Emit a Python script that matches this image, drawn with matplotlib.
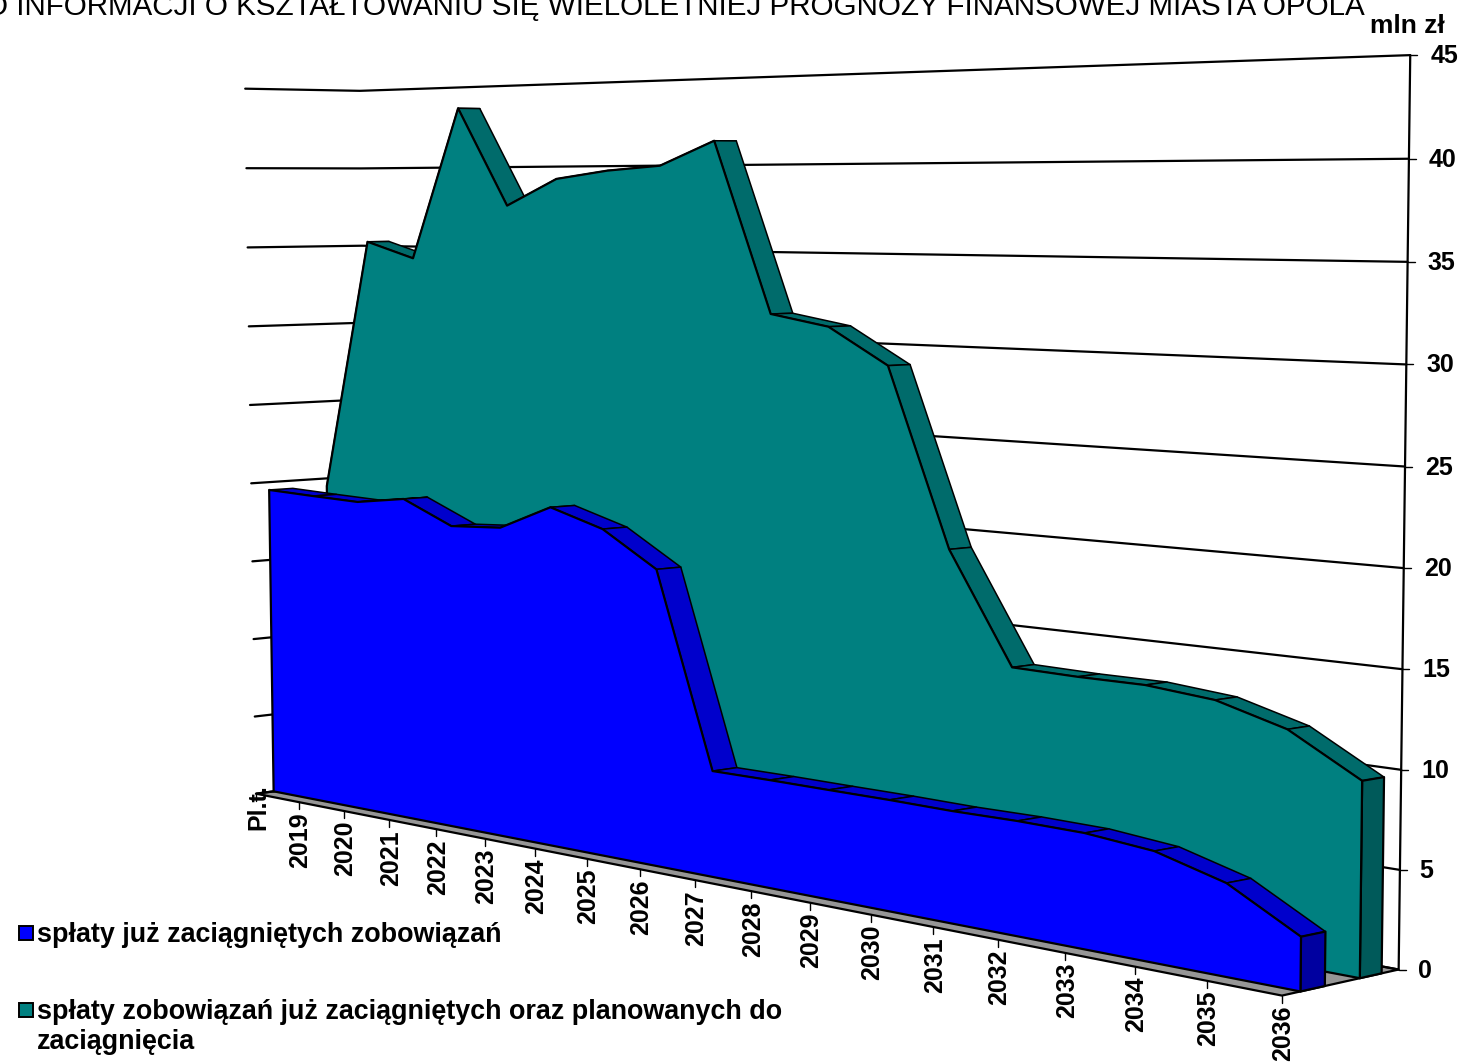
import numpy as np
import matplotlib
matplotlib.use("Agg")
import matplotlib.pyplot as plt
from matplotlib.patches import Polygon, Rectangle

plt.rcParams['font.family'] = ['Liberation Sans', 'DejaVu Sans']

categories = ['Pl.t.', '2019', '2020', '2021', '2022', '2023', '2024', '2025', '2026', '2027',
              '2028', '2029', '2030', '2031', '2032', '2033', '2034', '2035', '2036']
blue_values = [19.5, 19.38, 19.28, 19.74, 18.37, 18.57, 20.07, 19.09, 17.09, 6.03,
               6.05, 6.04, 6.04, 6.0, 6.04, 5.99, 5.66, 4.67, 2.68]
teal_values = [19.5, 35.33, 34.34, 43.6, 37.64, 39.24, 39.71, 39.97, 41.36, 31.59,
               30.99, 28.98, 19.21, 13.22, 13.15, 13.16, 12.84, 11.83, 9.78]
y_ticks = [0, 5, 10, 15, 20, 25, 30, 35, 40, 45]

# camera calibration: (category, value, depth) -> picture pixels
calib = [
 (0,0,0,257,794),(1,0,0,299,803),(2,0,0,344,812),(3,0,0,389,820.5),(4,0,0,437,830),(5,0,0,484,839),
 (7,0,0,586,859),(9,0,0,694,880),(12,0,0,870,914.5),(15,0,0,1065,952.6),(18,0,0,1282,995),
 (18,0,1,1399.5,968),(18,10,1,1401.5,770),(18,20,1,1404,569),(18,30,1,1406.5,365),(18,40,1,1409,159),(18,45,1,1410,55),
 (0,45,0,245,88),(0,40,0,247,168),(0,30,0,249,326),(0,20,0,251,483),(0,10,0,254,638),(0,5,0,255,716),
 (0,45,1,360,92),(0,40,1,360,168),(0,0,1,368,778),
]
A, b = [], []
for i, v, d, x, y in calib:
    A.append([i, v, d, 1, 0, 0, 0, 0, -x*i, -x*v, -x*d]); b.append(x)
    A.append([0, 0, 0, 0, i, v, d, 1, -y*i, -y*v, -y*d]); b.append(y)
p = np.linalg.lstsq(np.array(A, float), np.array(b, float), rcond=None)[0]
P = np.append(p, 1.0).reshape(3, 4)

def proj(i, v, d):
    q = P @ np.array([i, v, d, 1.0])
    return q[0]/q[2], q[1]/q[2]

D_BLUE = (0.154, 0.36)
D_TEAL = (0.66, 0.85)

fig = plt.figure(figsize=(14.61, 10.63), dpi=100)
ax = fig.add_axes([0, 0, 1, 1])
ax.set_xlim(0, 1461); ax.set_ylim(1063, 0); ax.axis('off')

LW = 1.6
FS = 18
def line(pts, lw=LW, z=1):
    ax.plot([q[0] for q in pts], [q[1] for q in pts], color='black', lw=lw, zorder=z, solid_capstyle='round')

# floor
ax.add_patch(Polygon([proj(0,0,0), proj(18,0,0), proj(18,0,1), proj(0,0,1)], fc='#969696', ec='black', lw=LW, zorder=1))
# gridlines, left wall + back wall
for t in y_ticks:
    line([proj(0,t,0), proj(0,t,1), proj(18,t,1)], z=1.5)
    x0, y0 = proj(18,t,1)
    line([(x0,y0),(x0+7,y0)], lw=1.0, z=1.5)
    ax.text(x0 + (34 if t >= 10 else 26), y0+1, str(t), ha='center', va='center', fontsize=FS, fontweight='bold')
line([proj(18,0,1), proj(18,45,1)], z=1.5)
ax.text(1407.5, 26, 'mln zł', ha='center', va='center', fontsize=19, fontweight='bold')

def area(values, ds, front, side, end, z):
    d0, d1 = ds
    n = len(values)
    for k in range(n-1):
        q = [proj(k, values[k], d0), proj(k+1, values[k+1], d0), proj(k+1, values[k+1], d1), proj(k, values[k], d1)]
        ax.add_patch(Polygon(q, fc=side, ec='black', lw=1.1, zorder=z, joinstyle='round'))
    q = [proj(n-1, values[-1], d0), proj(n-1, values[-1], d1), proj(n-1, 0, d1), proj(n-1, 0, d0)]
    ax.add_patch(Polygon(q, fc=end, ec='black', lw=LW, zorder=z, joinstyle='round'))
    q = [proj(k, values[k], d0) for k in range(n)] + [proj(n-1, 0, d0), proj(0, 0, d0)]
    ax.add_patch(Polygon(q, fc=front, ec='black', lw=LW, zorder=z+0.1, joinstyle='round'))

area(teal_values, D_TEAL, '#008080', '#006B6B', '#005A5A', 2)
area(blue_values, D_BLUE, '#0000FF', '#0000CC', '#0000A0', 3)

# category ticks and labels
for k, c in enumerate(categories):
    x, y = proj(k, 0, 0)
    line([(x,y),(x,y+7)], lw=1.0, z=4)
    if k == 0:
        ax.text(x+2, y-9, c, rotation=90, ha='center', va='top', fontsize=FS, fontweight='bold')
    else:
        ax.text(x+1.5, y+10, c, rotation=90, ha='center', va='top', fontsize=FS, fontweight='bold')

# legend
ax.add_patch(Rectangle((18.5,925.5),14,14, fc='#0000FF', ec='black', lw=1.4, zorder=5))
ax.add_patch(Rectangle((18.5,1003),14,14, fc='#008080', ec='black', lw=1.4, zorder=5))
ax.text(37, 935, 'spłaty już zaciągniętych zobowiązań', ha='left', va='center', fontsize=19.4, fontweight='bold')
ax.text(37, 1012, 'spłaty zobowiązań już zaciągniętych oraz planowanych do', ha='left', va='center', fontsize=19.4, fontweight='bold')
ax.text(37, 1042, 'zaciągnięcia', ha='left', va='center', fontsize=19.4, fontweight='bold')

# title (cropped by the top edge in the source)
ax.text(1365, 15, 'O INFORMACJI O KSZTAŁTOWANIU SIĘ WIELOLETNIEJ PROGNOZY FINANSOWEJ MIASTA OPOLA',
        ha='right', va='baseline', fontsize=21.3)

fig.savefig('out.png', dpi=100)
